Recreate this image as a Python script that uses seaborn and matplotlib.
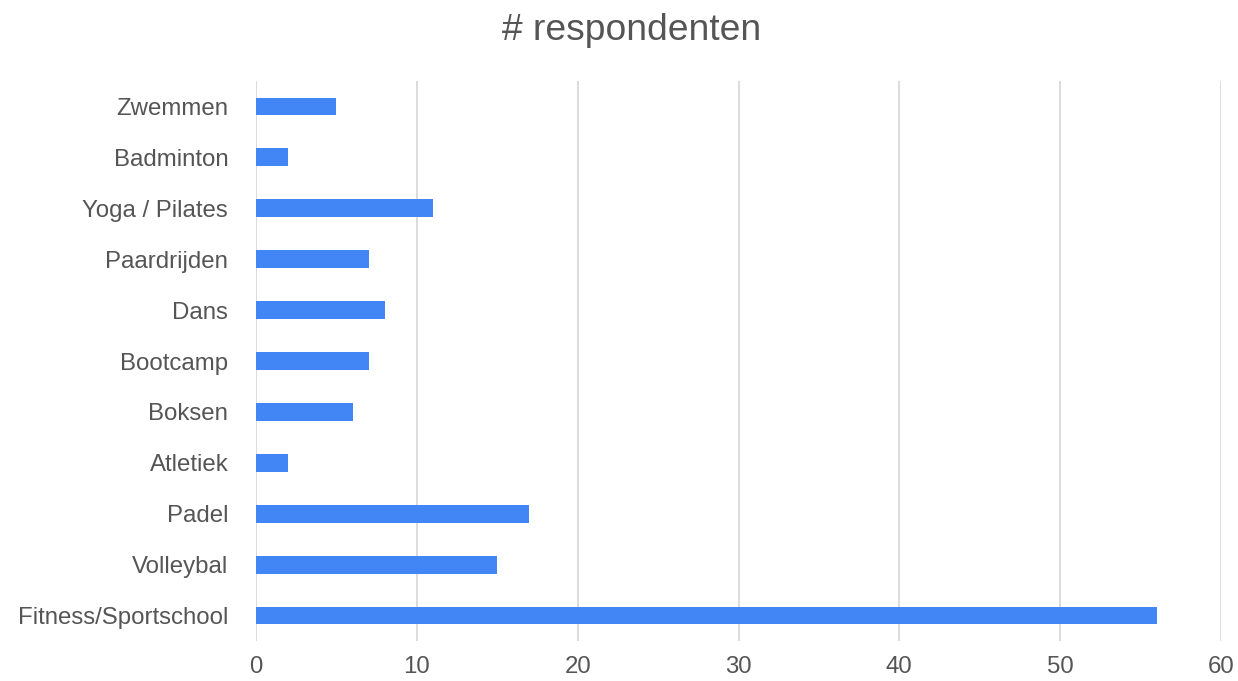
import matplotlib
matplotlib.use("Agg")
import matplotlib.pyplot as plt
import seaborn as sns
import pandas as pd

sporten = ["Zwemmen", "Badminton", "Yoga / Pilates", "Paardrijden", "Dans", "Bootcamp",
           "Boksen", "Atletiek", "Padel", "Volleybal", "Fitness/Sportschool"]
respondenten = [5, 2, 11, 7, 8, 7, 6, 2, 17, 15, 56]
x_ticks = [0, 10, 20, 30, 40, 50, 60]

df = pd.DataFrame({"sport": sporten, "n": respondenten})

sns.set_style("white")
plt.rcParams['font.family'] = ['Liberation Sans', 'DejaVu Sans']

fig = plt.figure(figsize=(12.38, 6.81), dpi=100)
ax = fig.add_axes([0.2068, 0.0587, 0.7795, 0.8223])

sns.barplot(data=df, x="n", y="sport", order=sporten, color="#4285F4",
            saturation=1, width=0.35, linewidth=0, ax=ax)

ax.set_xlim(0, 60)
ax.set_ylim(10.5, -0.5)
ax.set_xticks(x_ticks)
ax.grid(axis="x", color="#d9d9d9", linewidth=1.3)
ax.set_axisbelow(True)
for s in ax.spines.values():
    s.set_visible(False)
ax.tick_params(axis="x", length=0, pad=11, labelsize=17.3, labelcolor="#555555")
ax.tick_params(axis="y", length=0, pad=20, labelsize=17.3, labelcolor="#555555")
ax.set_xlabel("")
ax.set_ylabel("")
fig.suptitle("# respondenten", x=0.51, y=0.981, fontsize=26.8, color="#555555")

fig.savefig("out.png", dpi=100)
